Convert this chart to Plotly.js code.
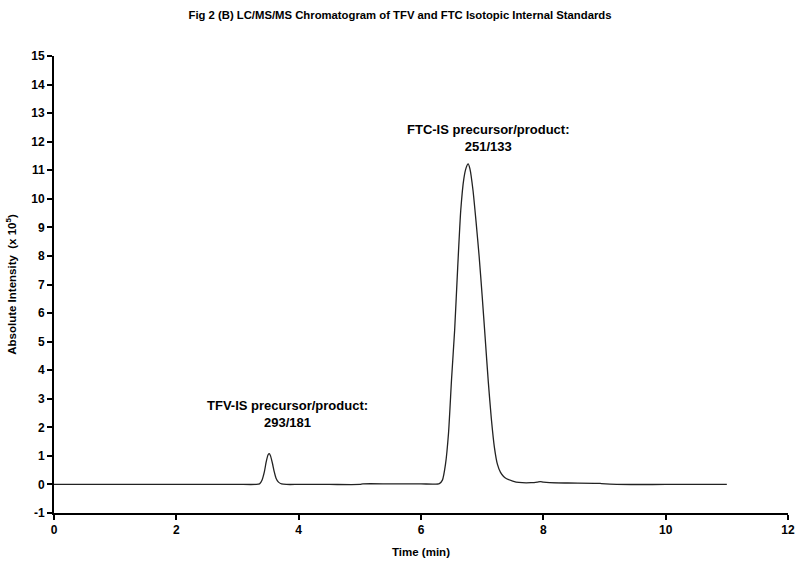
<!DOCTYPE html>
<html>
<head>
<meta charset="utf-8">
<script src="https://cdn.plot.ly/plotly-3.0.1.min.js"></script>
<style>html,body{margin:0;padding:0;background:#fff;}#chart{width:800px;height:571px;}</style>
</head>
<body>
<div id="chart"></div>
<script>
var timeMin = [0, 1, 2, 3, 3.30, 3.36, 3.40, 3.44, 3.47, 3.50, 3.52, 3.54, 3.57, 3.60, 3.63, 3.67, 3.72, 3.80, 4.0, 4.5, 5.0, 5.05, 5.5, 6.0, 6.2, 6.30,
  6.35, 6.40, 6.45, 6.50, 6.55, 6.60, 6.65, 6.70, 6.74, 6.77, 6.80, 6.85, 6.90, 6.95, 7.00, 7.05, 7.10, 7.15, 7.20, 7.25, 7.30, 7.35, 7.40,
  7.50, 7.60, 7.80, 7.90, 7.95, 8.00, 8.10, 8.40, 8.90, 8.95, 9.20, 10.0, 11.0];
var intensity = [0, 0, 0, 0, 0, 0.02, 0.15, 0.45, 0.8, 1.04, 1.08, 1.0, 0.75, 0.45, 0.22, 0.08, 0.02, 0, 0, 0, 0, 0.02, 0.02, 0.02, 0.01, 0.03,
  0.15, 0.7, 1.8, 3.7, 5.4, 7.6, 9.6, 10.7, 11.1, 11.22, 11.05, 10.3, 9.2, 8.0, 6.6, 5.1, 3.6, 2.3, 1.3, 0.7, 0.42, 0.28, 0.2,
  0.12, 0.07, 0.06, 0.08, 0.1, 0.08, 0.06, 0.05, 0.04, 0.03, 0.0, 0.0, 0.0];

var yTickVals = [-1, 0, 1, 2, 3, 4, 5, 6, 7, 8, 9, 10, 11, 12, 13, 14, 15];
var yTickText = ["-1", "0", "1", "2", "3", "4", "5", "6", "7", "8", "9", "10", "11", "12", "13", "14", "15"];
var xTickVals = [0, 2, 4, 6, 8, 10, 12];
var xTickText = ["0", "2", "4", "6", "8", "10", "12"];

var annText = ["TFV-IS precursor/product:<br>293/181", "FTC-IS precursor/product:<br>251/133"];
var annX = [3.82, 7.1];
var annY = [1.85, 11.5];

var font = "Liberation Sans, Arial, sans-serif";
var trace = {
  x: timeMin, y: intensity, type: "scatter", mode: "lines",
  line: {color: "#222", width: 1.3, shape: "spline", smoothing: 0.6},
  hoverinfo: "skip"
};
var layout = {
  width: 800, height: 571,
  margin: {l: 54, r: 12, t: 56, b: 58},
  paper_bgcolor: "#fff", plot_bgcolor: "#fff",
  showlegend: false,
  title: {text: "Fig 2 (B) LC/MS/MS Chromatogram of TFV and FTC Isotopic Internal Standards",
    font: {family: "Liberation Sans Narrow, Liberation Sans, Arial, sans-serif", size: 11.3, color: "#000", weight: "bold"},
    x: 0.5, xanchor: "center", y: 0.974, yanchor: "middle"},
  xaxis: {range: [0, 12], tickmode: "array", tickvals: xTickVals, ticktext: xTickText, showgrid: false, zeroline: false,
    showline: true, linewidth: 2, linecolor: "#000", ticks: "outside", ticklen: 5, tickwidth: 2, tickcolor: "#000",
    tickfont: {family: font, size: 12, color: "#000", weight: "bold"},
    title: {text: "Time (min)", font: {family: font, size: 11.5, color: "#000", weight: "bold"}, standoff: 12}},
  yaxis: {range: [-1, 15], tickmode: "array", tickvals: yTickVals, ticktext: yTickText, showgrid: false, zeroline: false,
    showline: true, linewidth: 2, linecolor: "#000", ticks: "outside", ticklen: 5, tickwidth: 2, tickcolor: "#000",
    tickfont: {family: font, size: 12, color: "#000", weight: "bold"},
    title: {text: "Absolute Intensity  (x 10<sup>5</sup>)", font: {family: font, size: 11.5, color: "#000", weight: "bold"}, standoff: 12}},
  annotations: annText.map(function (t, i) {
    return {text: t, x: annX[i], y: annY[i], xref: "x", yref: "y", showarrow: false,
      xanchor: "center", yanchor: "bottom", align: "center",
      font: {family: font, size: 13, color: "#000", weight: "bold"}};
  })
};
Plotly.newPlot("chart", [trace], layout, {staticPlot: true, displayModeBar: false});
</script>
</body>
</html>
